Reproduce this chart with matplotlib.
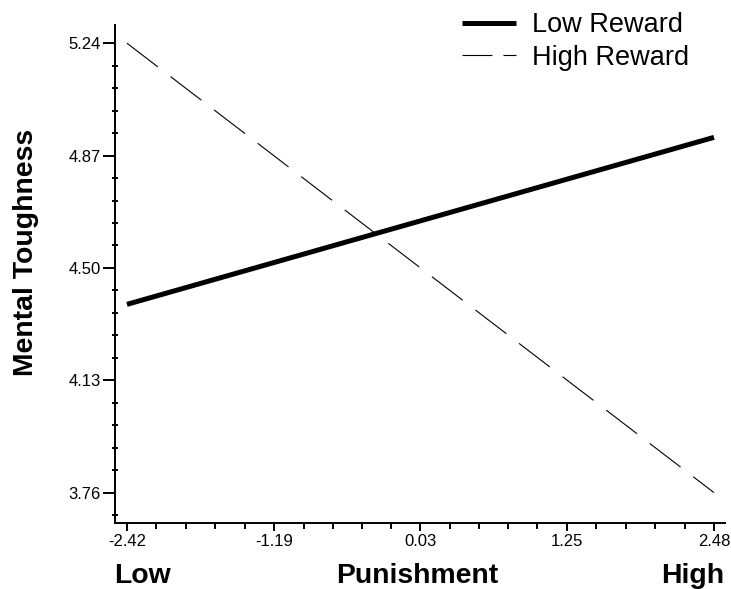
import matplotlib
matplotlib.use("Agg")
import matplotlib.pyplot as plt
from matplotlib.lines import Line2D
import numpy as np

plt.rcParams['font.family'] = ['Liberation Sans', 'DejaVu Sans']
plt.rcParams['lines.scale_dashes'] = False

# Data
x_values = [-2.42, 2.48]
low_reward = [4.38, 4.93]
high_reward = [5.24, 3.76]
x_ticks = [-2.42, -1.19, 0.03, 1.25, 2.48]
y_ticks = [3.76, 4.13, 4.50, 4.87, 5.24]
series_labels = ["Low Reward", "High Reward"]

W, H = 731, 589
fig = plt.figure(figsize=(W / 100, H / 100), dpi=100)
ax = fig.add_axes([114.5 / W, 1 - 522.7 / H, (725 - 114.5) / W, (522.7 - 25) / H])

ax.plot(x_values, low_reward, color='black', lw=3.6, solid_capstyle='butt')
ax.plot(x_values, high_reward, color='black', lw=0.8, dashes=(28, 11.5))

ax.set_xlim(-2.524, 2.572)
ax.set_ylim(3.661, 5.30)

for s in ['top', 'right']:
    ax.spines[s].set_visible(False)
for s in ['left', 'bottom']:
    ax.spines[s].set_linewidth(1.4)

ax.set_xticks(x_ticks)
ax.set_xticklabels([f"{v:.2f}" for v in x_ticks])
ax.set_yticks(y_ticks)
ax.set_yticklabels([f"{v:.2f}" for v in y_ticks])

# minor ticks: 5 subdivisions between majors
xminor = []
for a, b in zip(x_ticks[:-1], x_ticks[1:]):
    xminor += list(np.linspace(a, b, 6)[1:-1])
ystep = (y_ticks[1] - y_ticks[0]) / 5
yminor = [y_ticks[0] - ystep]
for a, b in zip(y_ticks[:-1], y_ticks[1:]):
    yminor += list(np.linspace(a, b, 6)[1:-1])
ax.set_xticks(xminor, minor=True)
ax.set_yticks(yminor, minor=True)

ax.tick_params(axis='both', which='major', direction='out', length=6, width=1.4,
               labelsize=12, pad=2, colors='black')
ax.tick_params(axis='x', which='minor', direction='out', length=4, width=1.4)
ax.tick_params(axis='y', which='minor', direction='inout', length=5, width=1.4)
ax.tick_params(axis='y', which='major', length=9, pad=1)

fig.text(26 / W, 1 - 252.5 / H, "Mental Toughness", rotation=90, ha='center', va='center',
         fontsize=20.4, fontweight='bold')
fig.text(143 / W, 1 - 583 / H, "Low", ha='center', va='baseline', fontsize=20.4, fontweight='bold')
fig.text(417.5 / W, 1 - 583 / H, "Punishment", ha='center', va='baseline', fontsize=20.4, fontweight='bold')
fig.text(693 / W, 1 - 583 / H, "High", ha='center', va='baseline', fontsize=20.4, fontweight='bold')

handles = [Line2D([], [], color='black', lw=3.6, solid_capstyle='butt'),
           Line2D([], [], color='black', lw=0.8, dashes=(21.5, 8))]
fig.legend(handles, series_labels, loc='upper left', bbox_to_anchor=(462 / W, 1 - 12 / H),
           frameon=False, fontsize=19.5, handlelength=2.0, handletextpad=0.6,
           borderpad=0, borderaxespad=0, labelspacing=0.25)

fig.savefig("out.png", dpi=100)
